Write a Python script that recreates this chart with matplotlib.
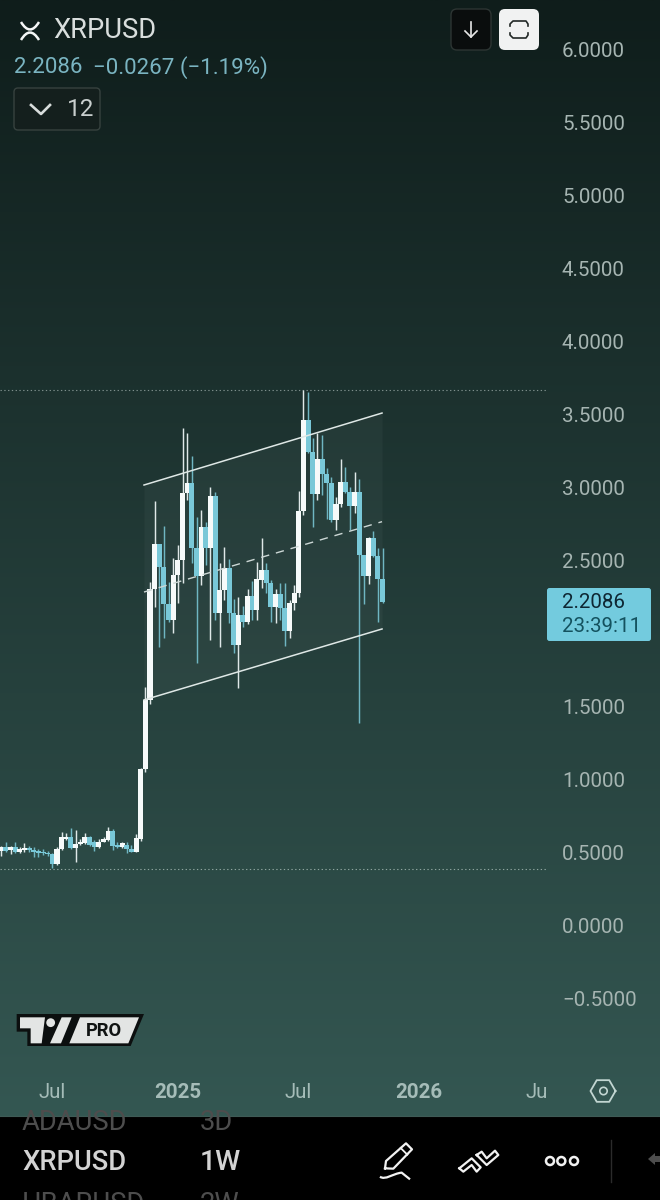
import numpy as np
import matplotlib
matplotlib.use("Agg")
import matplotlib.pyplot as plt
from matplotlib.patches import FancyBboxPatch, Polygon, Circle, Rectangle
from matplotlib.path import Path
from matplotlib.patches import PathPatch

plt.rcParams['font.family'] = ['Roboto', 'DejaVu Sans']

# ---------- data: weekly candles, first week index -32 ----------
first_week = -32
opens = [.513,.535,.517,.535,.501,.517,.533,.517,.508,.506,.499,.490,.419,.522,.590,.608,.529,.558,.567,.608,
         .574,.535,.574,.586,.650,.551,.535,.551,.522,.506,.590,1.07,1.546,
         2.305,2.611,2.453,2.202,2.092,2.401,2.503,2.960,3.029,2.583,2.396,2.732,2.583,2.942,2.143,2.298,2.446,
         2.143,1.921,2.127,2.081,2.257,2.161,2.366,2.435,2.344,2.184,2.271,2.172,2.019,2.211,2.275,2.841,3.462,
         3.245,2.953,3.193,3.092,3.029,2.777,2.885,3.035,2.971,2.873,2.971,2.538,2.396,2.656,2.533,2.373]
closes = [.535,.513,.535,.501,.522,.533,.517,.506,.499,.494,.490,.419,.522,.604,.608,.529,.558,.574,.608,.551,
          .535,.574,.590,.650,.545,.535,.563,.522,.506,.597,1.07,1.546,2.305,
          2.611,2.453,2.202,2.092,2.401,2.503,2.960,3.029,2.583,2.396,2.732,2.583,2.942,2.143,2.298,2.446,2.143,
          1.921,2.127,2.081,2.257,2.161,2.373,2.435,2.344,2.184,2.271,2.172,2.019,2.211,2.275,2.841,3.462,3.245,
          2.953,3.193,3.092,3.029,2.777,2.885,3.035,2.971,2.873,2.971,2.538,2.396,2.656,2.533,2.373,2.213]
highs = [.545,.574,.545,.572,.535,.563,.545,.535,.522,.522,.508,.499,.535,.643,.636,.666,.654,.590,.636,.613,
         .586,.590,.604,.677,.659,.574,.574,.574,.551,.627,1.08,1.636,2.355,
         2.910,2.611,2.739,2.355,2.515,2.606,3.405,3.371,3.218,2.800,2.846,2.766,3.001,2.971,2.481,2.595,2.508,
         2.236,2.252,2.188,2.305,2.360,2.487,2.652,2.485,2.366,2.303,2.344,2.344,2.229,2.332,2.978,3.668,3.656,
         3.337,3.376,3.360,3.131,3.074,2.937,3.193,3.143,3.006,3.104,3.056,2.538,2.663,2.704,2.588,2.588]
lows = [.478,.506,.490,.494,.494,.506,.506,.467,.471,.483,.476,.391,.414,.517,.586,.522,.437,.551,.556,.545,
        .513,.529,.570,.581,.517,.529,.529,.499,.501,.501,.58,1.05,1.52,
        2.184,1.910,1.967,2.081,2.001,2.207,2.344,2.914,2.481,1.796,2.332,2.469,1.955,2.092,1.910,2.229,2.070,
        1.864,1.624,2.047,2.063,2.092,2.092,2.309,2.275,2.081,2.070,2.092,1.914,1.967,2.161,2.252,2.812,3.234,
        2.732,2.914,2.949,2.782,2.766,2.709,2.869,2.960,2.709,2.823,1.385,2.202,2.339,2.526,2.081,2.207]

price_ticks = [6.0, 5.5, 5.0, 4.5, 4.0, 3.5, 3.0, 2.5, 1.5, 1.0, 0.5, 0.0, -0.5]
price_labels = ['6.0000','5.5000','5.0000','4.5000','4.0000','3.5000','3.0000','2.5000',
                '1.5000','1.0000','0.5000','0.0000','\u22120.5000']
time_ticks = [-21.07, 6.02, 31.83, 57.85, 83.2]
time_labels = ['Jul', '2025', 'Jul', '2026', 'Ju']
year_labels = ['2025', '2026']

channel_x = [-1.29, 49.9]
channel_upper = [3.017, 3.510]
channel_lower = [1.545, 2.031]
channel_mid = [2.284, 2.766]
range_high = 3.668
range_low = 0.39

WHITE = '#f6fafa'
WHITE_WICK = '#dfe8e8'
CYAN = '#79c8d8'
CYAN_WICK = '#6fb6c2'
W, H = 660, 1200

fig = plt.figure(figsize=(6.6, 12), dpi=100, facecolor='black')

# ---------- background gradient ----------
bg = fig.add_axes([0, 0, 1, 1], zorder=0)
bg.set_xlim(0, W); bg.set_ylim(H, 0); bg.axis('off')
c0 = np.array([0x0f, 0x1d, 0x1b]) / 255
c1 = np.array([0x34, 0x57, 0x52]) / 255
t = np.linspace(0, 1, 512)[:, None, None]
bg.imshow(c0 + (c1 - c0) * t, extent=[0, W, 1116, 0], aspect='auto', zorder=0)
bg.set_xlim(0, W); bg.set_ylim(H, 0)

# ---------- price chart ----------
right_px, bottom_px = 546, 1072
ax = fig.add_axes([0, 1 - bottom_px / H, right_px / W, bottom_px / H], zorder=1)
ax.patch.set_alpha(0)
ax.set_xlim((0 - 150) / 4.65, (right_px - 150) / 4.65)
ax.set_ylim(6 - (bottom_px - 49.5) / 146, 6 + 49.5 / 146)
for s in ax.spines.values():
    s.set_visible(False)

weeks = first_week + np.arange(len(opens))
o, c, hi, lo = map(np.array, (opens, closes, highs, lows))
up = c >= o
for i in range(len(weeks)):
    ax.vlines(weeks[i], lo[i], hi[i], color=WHITE_WICK if up[i] else CYAN_WICK, lw=1.05, zorder=2 + i * 0.01)
    ax.bar(weeks[i], abs(c[i] - o[i]), bottom=min(o[i], c[i]), width=1.08,
           color=WHITE if up[i] else CYAN, lw=0, zorder=2 + i * 0.01)

ax.fill_between(channel_x, channel_lower, channel_upper, color='white', alpha=0.035, lw=0, zorder=1)
ax.plot(channel_x, channel_upper, color='#dfe8e6', lw=1.1, zorder=4)
ax.plot(channel_x, channel_lower, color='#dfe8e6', lw=1.1, zorder=4)
ax.plot(channel_x, channel_mid, color='#cdd8d6', lw=1.0, dashes=(6, 5), zorder=4)
ax.axhline(range_high, color='#7f8f8c', lw=0.8, dashes=(1.2, 2.2), zorder=1)
ax.axhline(range_low, color='#8fa5a0', lw=0.8, dashes=(1.2, 2.2), zorder=1)

ax.set_yticks(price_ticks, price_labels)
ax.yaxis.tick_right()
ax.tick_params(axis='y', length=0, pad=11.5, labelsize=14.8, labelcolor='#a6b5b2')
ax.set_xticks(time_ticks, time_labels)
ax.tick_params(axis='x', length=0, pad=8.0, labelsize=14.8, labelcolor='#a5bcb8')
for lab in ax.get_xticklabels():
    if lab.get_text() in year_labels:
        lab.set_fontweight('bold')

# ---------- interface overlay, in pixels ----------
ui = fig.add_axes([0, 0, 1, 1], zorder=2)
ui.set_xlim(0, W); ui.set_ylim(H, 0); ui.axis('off'); ui.patch.set_alpha(0)


def rbox(x0, y0, x1, y1, r, fc, ec='none', lw=1.0, z=3):
    p = FancyBboxPatch((x0 + r, y0 + r), x1 - x0 - 2 * r, y1 - y0 - 2 * r,
                       boxstyle=f'round,pad={r},rounding_size={r}', fc=fc, ec=ec, lw=lw, zorder=z)
    ui.add_patch(p)
    return p


def curve(p0, p1, p2, color, lw, z=4):
    ui.add_patch(PathPatch(Path([p0, p1, p2], [Path.MOVETO, Path.CURVE3, Path.CURVE3]),
                           fc='none', ec=color, lw=lw, zorder=z))


# header
curve((21, 22), (30, 37), (39, 22), '#f4f6f6', 1.8)
curve((21, 40), (30, 25), (39, 40), '#f4f6f6', 1.8)
ui.text(53, 31, 'XRPUSD', color='#d9dedd', fontsize=19.7, va='center', ha='left')
ui.text(14, 67.5, '2.2086', color='#7ab4c1', fontsize=16.0, va='center', ha='left')
ui.text(93, 67.5, '\u22120.0267 (\u22121.19%)', color='#7ab4c1', fontsize=16.05, va='center', ha='left')
rbox(14, 88, 100, 130, 4, '#141f1d', '#37423f', 1.0)
ui.plot([31, 41, 50], [105, 114, 105], color='#d8dddc', lw=1.9, zorder=4)
ui.text(67, 109.5, '12', color='#c9cfce', fontsize=17.5, va='center', ha='left')

# top buttons
rbox(451, 9, 491, 50, 6, '#0a0d0d', '#2d3533', 1.0)
ui.plot([471, 471], [22, 37], color='#e8e8e8', lw=1.2, zorder=4)
ui.plot([465, 471, 477], [31, 37, 31], color='#e8e8e8', lw=1.2, zorder=4)
rbox(499, 9, 539, 50, 6, '#f1f2f2')
ui.plot([510, 510, 513, 526, 528, 528], [26, 24, 21, 21, 24, 26], color='#222826', lw=1.2, zorder=4)
ui.plot([510, 510, 513, 526, 528, 528], [33, 35, 38, 38, 35, 33], color='#222826', lw=1.2, zorder=4)

# last price tag
rbox(547, 588, 651, 641, 2.5, '#73cbde')
ui.text(562, 603, '2.2086', color='#0e2733', fontsize=14.8, va='center', ha='left', zorder=5)
ui.text(562, 627, '23:39:11', color='#14525f', fontsize=14.8, va='center', ha='left', zorder=5)


# TradingView PRO logo
def z5(points):
    return [(x / 3, 1000 + y / 3) for x, y in points]


ui.add_patch(Polygon(z5([(50, 42), (432, 42), (392, 138), (82, 138), (82, 95), (50, 95)]),
                     fc='#0c0f0f', ec='none', zorder=3))
ui.add_patch(Polygon(z5([(60, 52), (135, 52), (125, 130), (92, 130), (92, 85), (60, 85)]),
                     fc='#e3e5e4', ec='none', zorder=4))
ui.add_patch(Circle((152 / 3, 1000 + 68 / 3), 4.4, fc='#e3e5e4', ec='none', zorder=4))
ui.add_patch(Polygon(z5([(185, 52), (215, 52), (183, 130), (150, 130)]), fc='#e3e5e4', ec='none', zorder=4))
ui.add_patch(Polygon(z5([(240, 52), (417, 52), (385, 130), (208, 130)]), fc='#e3e5e4', ec='none', zorder=4))
ui.text(104, 1030.5, 'PRO', color='#111413', fontsize=13.2, fontweight='bold', va='center', ha='center', zorder=5)

# settings hexagon
ang = np.deg2rad(np.arange(0, 361, 60))
ui.plot(603 + 12.5 * np.cos(ang), 1091 + 12.5 * np.sin(ang), color='#c2d6d2', lw=1.3, zorder=4)
ui.add_patch(Circle((603.5, 1091), 3.7, fc='none', ec='#c2d6d2', lw=1.2, zorder=4))

# bottom bar
bar = Rectangle((0, 1116), W, 84, fc='black', ec='none', zorder=2)
ui.add_patch(bar)
ui.plot([0, W], [1115.5, 1115.5], color='#3e5a55', lw=0.8, zorder=2)
t1 = ui.text(22, 1123, 'ADAUSD', color='#4d4d4d', fontsize=19.7, va='center', ha='left', zorder=3)
t2 = ui.text(200, 1123, '3D', color='#4d4d4d', fontsize=19.7, va='center', ha='left', zorder=3)
t1.set_clip_path(bar); t2.set_clip_path(bar)
ui.text(22, 1162.5, 'XRPUSD', color='#d3d3d3', fontsize=19.7, fontweight='medium', va='center', ha='left', zorder=3)
ui.text(200, 1162.5, '1W', color='#d3d3d3', fontsize=20.5, fontweight='medium', va='center', ha='left', zorder=3)
ui.text(22, 1205, 'HBARUSD', color='#4d4d4d', fontsize=19.7, va='center', ha='left', zorder=3)
ui.text(200, 1205, '2W', color='#4d4d4d', fontsize=19.7, va='center', ha='left', zorder=3)


def z6(points):
    return [(330 + x / 3, 1060 + y / 3) for x, y in points]


pen = z6([(165, 325), (168, 303), (228, 250), (246, 268), (190, 326), (165, 325)])
ui.plot(*zip(*pen), color='#f2f2f2', lw=1.6, zorder=4)
ui.plot(*zip(*z6([(212, 264), (232, 284)])), color='#f2f2f2', lw=1.3, zorder=4)
sq = Path(z6([(150, 350), (165, 362), (190, 340), (215, 338), (240, 358)]),
          [Path.MOVETO, Path.CURVE4, Path.CURVE4, Path.CURVE4, Path.LINETO])
ui.add_patch(PathPatch(sq, fc='none', ec='#f2f2f2', lw=1.6, zorder=4))
zig1 = z6([(388, 325), (425, 295), (452, 322), (440, 335), (425, 315), (400, 335), (388, 325)])
zig2 = z6([(440, 285), (455, 275), (470, 295), (495, 272), (505, 285), (470, 315), (440, 285)])
ui.plot(*zip(*zig1), color='#f2f2f2', lw=1.6, zorder=4)
ui.plot(*zip(*zig2), color='#f2f2f2', lw=1.6, zorder=4)
for cx in (660, 694, 732):
    ui.add_patch(Circle((330 + cx / 3, 1161), 4.0, fc='none', ec='#f2f2f2', lw=1.8, zorder=4))
ui.plot([611, 611], [1140, 1182], color='#2b2b2b', lw=1.0, zorder=4)
ui.add_patch(Polygon([(648, 1159), (655, 1153), (655, 1156), (660, 1156), (660, 1162), (655, 1162), (655, 1165)],
                     fc='#4d4d4d', ec='none', zorder=4))

fig.savefig('out.png', dpi=100, facecolor='black')
